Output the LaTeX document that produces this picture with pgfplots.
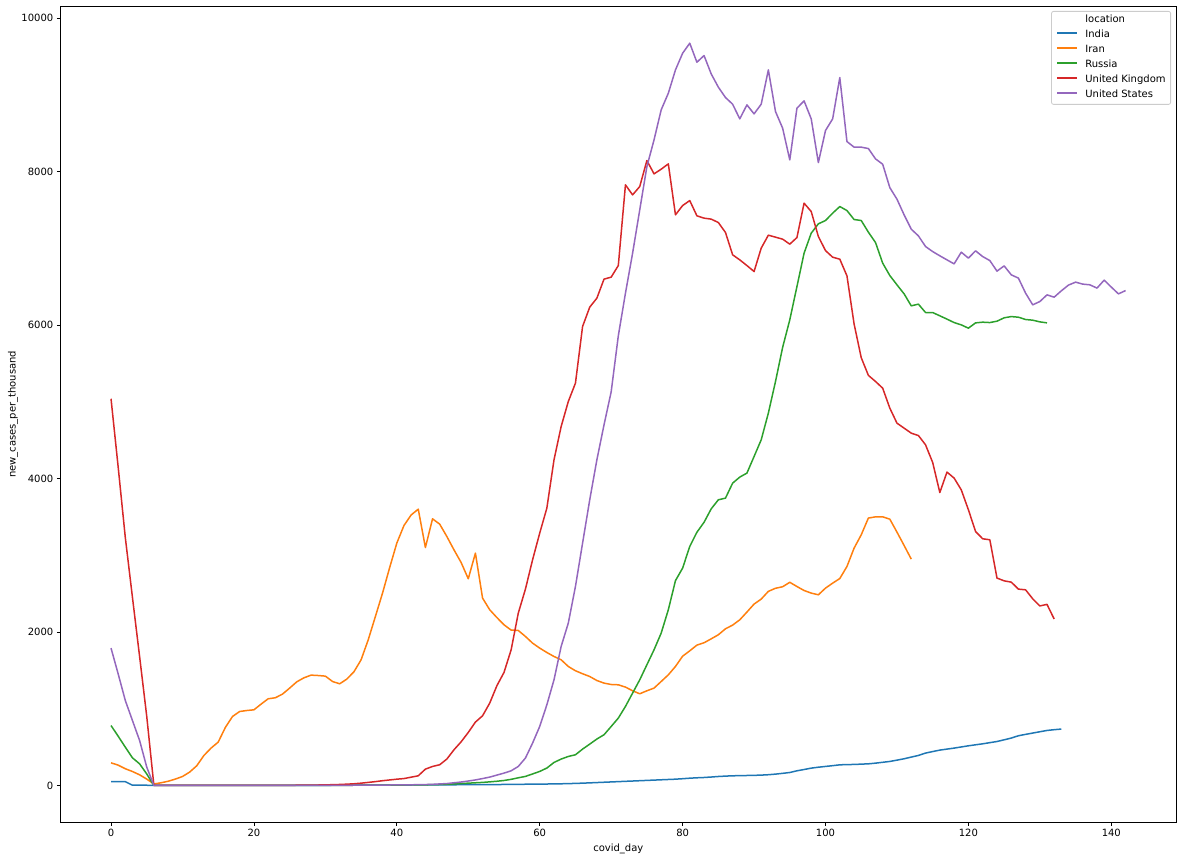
\documentclass[border=0pt]{standalone}
\usepackage{fontspec}
\setmainfont{DejaVu Sans}
\usepackage{pgfplots}
\pgfplotsset{compat=1.18}
\definecolor{cIndia}{HTML}{1F77B4}
\definecolor{cIran}{HTML}{FF7F0E}
\definecolor{cRussia}{HTML}{2CA02C}
\definecolor{cUK}{HTML}{D62728}
\definecolor{cUS}{HTML}{9467BD}
\definecolor{legframe}{HTML}{CCCCCC}
\tikzset{ser/.style={line width=1.5pt, line join=round}}
\begin{document}
\begin{tikzpicture}
\useasboundingbox (-60.3pt,-38.7pt) rectangle (1122.7pt,822.3pt);
\begin{axis}[
  scale only axis,
  width=1116pt, height=816pt,
  at={(0pt,0pt)}, anchor=south west,
  xmin=-7.1, xmax=149.1,
  ymin=-480, ymax=10155,
  xtick={0,20,...,140},
  ytick={0,2000,...,10000},
  scaled y ticks=false, scaled x ticks=false,
  xtick pos=left, ytick pos=left,
  tick align=outside,
  major tick length=3.5pt,
  every tick/.style={black, line width=0.8pt},
  axis line style={black, line width=0.8pt},
  /pgf/number format/assume math mode=true,
  /pgf/number format/1000 sep={},
  xticklabel={\pgfmathprintnumber[assume math mode=true,1000 sep={}]{\tick}},
  yticklabel={\pgfmathprintnumber[assume math mode=true,1000 sep={}]{\tick}},
  ticklabel style={font=\fontsize{10}{12}\selectfont},
  xlabel={covid\_day},
  ylabel={new\_cases\_per\_thousand},
  label style={font=\fontsize{10}{12}\selectfont},
  xlabel style={at={(axis description cs:0.5,0)}, anchor=center, yshift=-26.7pt},
  ylabel style={at={(axis description cs:0,0.5)}, anchor=center, rotate=0, yshift=47.3pt},
  legend cell align=left,
  legend image code/.code={\draw[#1, line width=1.6pt, draw opacity=1] (0pt,2.6pt) -- (20pt,2.6pt); \path[draw=none, fill=none] (0pt,0pt) -- (28pt,0pt);},
  legend style={
    at={(axis description cs:1,1)}, anchor=north east,
    xshift=-5.3pt, yshift=-4.7pt,
    draw=legframe, line width=0.8pt, rounded corners=2pt,
    fill=white, fill opacity=0.8, text opacity=1,
    inner xsep=5pt, inner ysep=1.5pt,
    row sep=0pt,
    font=\fontsize{10}{12}\selectfont,
    nodes={inner xsep=0pt, inner ysep=2.5pt, text height=7.5pt, text depth=2.5pt},
  },
]
\addlegendimage{empty legend}
\addlegendentry{location}
\addlegendimage{draw=cIndia, sharp corners}
\addlegendentry{India}
\addlegendimage{draw=cIran, sharp corners}
\addlegendentry{Iran}
\addlegendimage{draw=cRussia, sharp corners}
\addlegendentry{Russia}
\addlegendimage{draw=cUK, sharp corners}
\addlegendentry{United Kingdom}
\addlegendimage{draw=cUS, sharp corners}
\addlegendentry{United States}

% India
\addplot[ser, color=cIndia, no markers, forget plot] coordinates {
(0,50)(1,50)(2,50)(3,3)(4,3)(5,3)(6,0)(7,1)(8,1)(9,1)(10,1)(11,1)(12,1)(13,1)(14,1)(15,1)(16,1)(17,1)(18,1)(19,1)
(20,2)(21,2)(22,2)(23,2)(24,2)(25,2)(26,2)(27,2)(28,2)(29,2)(30,2)(31,3)(32,3)(33,3)(34,3)(35,4)(36,4)(37,4)(38,5)(39,5)
(40,5)(41,6)(42,6)(43,7)(44,7)(45,8)(46,8)(47,9)(48,9)(49,10)(50,10)(51,11)(52,11)(53,12)(54,12)(55,13)(56,14)(57,15)(58,16)(59,17)
(60,18)(61,19)(62,20)(63,22)(64,24)(65,27)(66,30)(67,34)(68,38)(69,42)(70,46)(71,50)(72,54)(73,58)(74,62)(75,66)(76,70)(77,74)(78,78)(79,82)
(80,88)(81,95)(82,100)(83,104)(84,110)(85,117)(86,122)(87,126)(88,128)(89,130)(90,132)(91,135)(92,140)(93,148)(94,158)(95,169)(96,191)(97,208)(98,226)(99,238)
(100,248)(101,258)(102,269)(103,272)(104,274)(105,278)(106,282)(107,291)(108,302)(109,313)(110,330)(111,348)(112,370)(113,391)(114,422)(115,442)(116,461)(117,474)(118,487)(119,502)
(120,517)(121,530)(122,543)(123,558)(124,573)(125,595)(126,618)(127,648)(128,666)(129,683)(130,700)(131,717)(132,727)(133,735)
};

% Iran
\addplot[ser, color=cIran, no markers, forget plot] coordinates {
(0,295)(1,265)(2,218)(3,182)(4,139)(5,83)(6,20)(7,35)(8,55)(9,83)(10,117)(11,174)(12,257)(13,391)(14,487)(15,565)(16,756)(17,899)(18,964)(19,977)
(20,986)(21,1060)(22,1130)(23,1143)(24,1191)(25,1269)(26,1351)(27,1403)(28,1438)(29,1433)(30,1425)(31,1355)(32,1325)(33,1386)(34,1482)(35,1638)(36,1899)(37,2202)(38,2507)(39,2840)
(40,3159)(41,3388)(42,3525)(43,3601)(44,3101)(45,3475)(46,3406)(47,3245)(48,3071)(49,2906)(50,2694)(51,3028)(52,2442)(53,2290)(54,2189)(55,2094)(56,2025)(57,2020)(58,1942)(59,1855)
(60,1790)(61,1733)(62,1681)(63,1638)(64,1551)(65,1495)(66,1456)(67,1420)(68,1368)(69,1334)(70,1316)(71,1312)(72,1282)(73,1234)(74,1195)(75,1234)(76,1269)(77,1355)(78,1442)(79,1551)
(80,1685)(81,1755)(82,1829)(83,1860)(84,1911)(85,1964)(86,2042)(87,2090)(88,2159)(89,2260)(90,2364)(91,2429)(92,2530)(93,2570)(94,2590)(95,2648)(96,2593)(97,2541)(98,2507)(99,2485)
(100,2572)(101,2637)(102,2697)(103,2854)(104,3093)(105,3267)(106,3485)(107,3501)(108,3501)(109,3471)(110,3302)(111,3128)(112,2950)
};

% Russia
\addplot[ser, color=cRussia, no markers, forget plot] coordinates {
(0,781)(1,642)(2,499)(3,360)(4,282)(5,150)(6,0)(7,0)(8,0)(9,0)(10,0)(11,0)(12,0)(13,0)(14,0)(15,0)(16,0)(17,0)(18,0)(19,0)
(20,0)(21,0)(22,0)(23,0)(24,1)(25,1)(26,1)(27,1)(28,1)(29,1)(30,1)(31,2)(32,2)(33,2)(34,3)(35,3)(36,4)(37,4)(38,5)(39,5)
(40,6)(41,6)(42,7)(43,8)(44,9)(45,10)(46,13)(47,16)(48,20)(49,25)(50,30)(51,35)(52,40)(53,47)(54,55)(55,65)(56,80)(57,100)(58,118)(59,150)
(60,183)(61,227)(62,300)(63,344)(64,378)(65,400)(66,474)(67,539)(68,605)(69,661)(70,769)(71,878)(72,1030)(73,1204)(74,1377)(75,1573)(76,1768)(77,1986)(78,2290)(79,2670)
(80,2833)(81,3115)(82,3300)(83,3430)(84,3605)(85,3723)(86,3745)(87,3940)(88,4019)(89,4071)(90,4287)(91,4505)(92,4853)(93,5265)(94,5710)(95,6069)(96,6502)(97,6937)(98,7198)(99,7320)
(100,7363)(101,7459)(102,7545)(103,7493)(104,7376)(105,7363)(106,7211)(107,7076)(108,6808)(109,6646)(110,6525)(111,6407)(112,6251)(113,6273)(114,6164)(115,6164)(116,6121)(117,6078)(118,6033)(119,6003)
(120,5960)(121,6029)(122,6038)(123,6033)(124,6051)(125,6095)(126,6111)(127,6103)(128,6073)(129,6064)(130,6042)(131,6029)
};

% United Kingdom
\addplot[ser, color=cUK, no markers, forget plot] coordinates {
(0,5040)(1,4150)(2,3230)(3,2450)(4,1680)(5,900)(6,0)(7,0)(8,0)(9,0)(10,0)(11,0)(12,0)(13,0)(14,0)(15,0)(16,0)(17,0)(18,0)(19,0)
(20,1)(21,1)(22,1)(23,1)(24,1)(25,2)(26,3)(27,4)(28,5)(29,6)(30,8)(31,10)(32,13)(33,17)(34,22)(35,30)(36,40)(37,50)(38,62)(39,72)
(40,82)(41,90)(42,108)(43,126)(44,213)(45,248)(46,270)(47,344)(48,465)(49,569)(50,691)(51,826)(52,908)(53,1073)(54,1299)(55,1473)(56,1768)(57,2246)(58,2559)(59,2941)
(60,3289)(61,3615)(62,4244)(63,4678)(64,5004)(65,5243)(66,5982)(67,6234)(68,6351)(69,6599)(70,6625)(71,6776)(72,7828)(73,7697)(74,7806)(75,8145)(76,7971)(77,8032)(78,8101)(79,7437)
(80,7558)(81,7623)(82,7424)(83,7394)(84,7381)(85,7337)(86,7207)(87,6916)(88,6850)(89,6776)(90,6698)(91,7003)(92,7172)(93,7146)(94,7120)(95,7055)(96,7141)(97,7589)(98,7480)(99,7154)
(100,6971)(101,6885)(102,6859)(103,6642)(104,6015)(105,5575)(106,5345)(107,5265)(108,5178)(109,4918)(110,4722)(111,4657)(112,4592)(113,4561)(114,4440)(115,4209)(116,3818)(117,4084)(118,4006)(119,3853)
(120,3593)(121,3310)(122,3215)(123,3202)(124,2703)(125,2667)(126,2650)(127,2559)(128,2550)(129,2433)(130,2340)(131,2360)(132,2170)
};

% United States
\addplot[ser, color=cUS, no markers, forget plot] coordinates {
(0,1790)(1,1454)(2,1107)(3,846)(4,586)(5,239)(6,0)(7,0)(8,0)(9,0)(10,0)(11,0)(12,0)(13,0)(14,0)(15,0)(16,0)(17,0)(18,0)(19,0)
(20,0)(21,0)(22,0)(23,0)(24,1)(25,1)(26,1)(27,1)(28,1)(29,1)(30,1)(31,2)(32,2)(33,2)(34,3)(35,3)(36,4)(37,4)(38,5)(39,6)
(40,7)(41,8)(42,9)(43,10)(44,12)(45,15)(46,20)(47,25)(48,35)(49,45)(50,58)(51,72)(52,90)(53,109)(54,135)(55,161)(56,191)(57,248)(58,357)(59,552)
(60,769)(61,1052)(62,1377)(63,1812)(64,2116)(65,2593)(66,3159)(67,3723)(68,4244)(69,4700)(70,5130)(71,5860)(72,6416)(73,6937)(74,7502)(75,8066)(76,8414)(77,8805)(78,9022)(79,9326)
(80,9543)(81,9674)(82,9426)(83,9513)(84,9274)(85,9101)(86,8966)(87,8879)(88,8688)(89,8870)(90,8753)(91,8879)(92,9326)(93,8783)(94,8566)(95,8153)(96,8827)(97,8922)(98,8688)(99,8118)
(100,8536)(101,8688)(102,9226)(103,8392)(104,8319)(105,8319)(106,8301)(107,8166)(108,8097)(109,7792)(110,7641)(111,7437)(112,7250)(113,7163)(114,7024)(115,6958)(116,6903)(117,6850)(118,6798)(119,6950)
(120,6873)(121,6968)(122,6893)(123,6841)(124,6703)(125,6772)(126,6655)(127,6612)(128,6417)(129,6264)(130,6307)(131,6394)(132,6364)(133,6446)(134,6521)(135,6560)(136,6534)(137,6525)(138,6482)(139,6586)
(140,6495)(141,6407)(142,6450)
};
\end{axis}
\end{tikzpicture}
\end{document}
